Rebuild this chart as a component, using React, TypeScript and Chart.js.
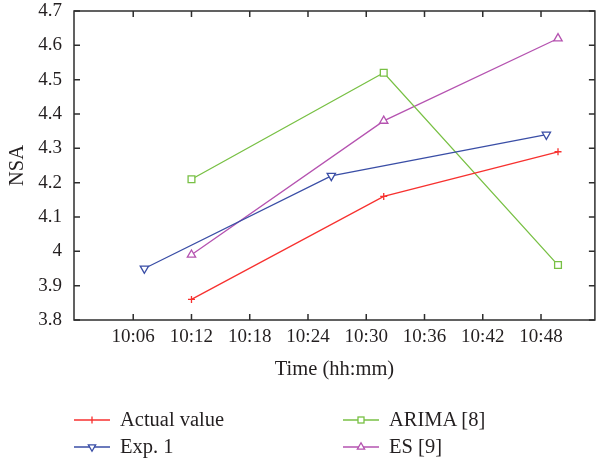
import React, { useEffect, useRef } from "react";
import { Chart, registerables } from "chart.js";

Chart.register(...registerables);

// ---- data ----
const seriesNames = ["Actual value", "Exp. 1", "ARIMA [8]", "ES [9]"];
const seriesColors = ["#f7312f", "#3a4ea6", "#78c044", "#b553b0"];
// minutes after 10:00
const timesMain = [12, 31.8, 49.75];
const timesExp1 = [7.15, 26.4, 48.55];
const actualValues = [3.86, 4.16, 4.29];
const exp1Values = [3.95, 4.22, 4.34];
const arimaValues = [4.21, 4.52, 3.96];
const esValues = [3.99, 4.38, 4.62];
const xTickMinutes = [6, 12, 18, 24, 30, 36, 42, 48];
const yTickValues = [3.8, 3.9, 4.0, 4.1, 4.2, 4.3, 4.4, 4.5, 4.6, 4.7];
const xAxisTitle = "Time (hh:mm)";
const yAxisTitle = "NSA";

const TEXT = "#231f20";
const FONT = "'Liberation Serif', 'Times New Roman', serif";

const fmtTime = (m: number) => `10:${String(Math.round(m)).padStart(2, "0")}`;
const toPoints = (xs: number[], ys: number[]) => xs.map((x, i) => ({ x, y: ys[i] }));

const framePlugin = {
  id: "frameTicks",
  afterDraw(chart: any) {
    const { ctx, chartArea } = chart;
    const { left, right, top, bottom } = chartArea;
    const xs = chart.scales.x;
    const ys = chart.scales.y;
    const tl = 6;
    ctx.save();
    ctx.strokeStyle = "#2e2e2e";
    ctx.lineWidth = 1.5;
    ctx.strokeRect(left, top, right - left, bottom - top);
    ctx.beginPath();
    xs.ticks.forEach((t: any) => {
      const px = xs.getPixelForValue(t.value);
      ctx.moveTo(px, bottom);
      ctx.lineTo(px, bottom - tl);
      ctx.moveTo(px, top);
      ctx.lineTo(px, top + tl);
    });
    ys.ticks.forEach((t: any) => {
      const py = ys.getPixelForValue(t.value);
      ctx.moveTo(left, py);
      ctx.lineTo(left + tl, py);
      ctx.moveTo(right, py);
      ctx.lineTo(right - tl, py);
    });
    ctx.stroke();
    ctx.restore();
  },
};

function Marker({ kind, color }: { kind: string; color: string }) {
  const cx = 18;
  const cy = 7;
  const r = 4.2;
  let shape: React.ReactNode = null;
  if (kind === "cross") {
    shape = <line x1={cx} y1={cy - 3.5} x2={cx} y2={cy + 3.5} stroke={color} strokeWidth={1.3} />;
  } else if (kind === "down") {
    const pts = `${cx},${cy + r} ${cx - r * 0.866},${cy - r / 2} ${cx + r * 0.866},${cy - r / 2}`;
    shape = <polygon points={pts} fill="#fff" stroke={color} strokeWidth={1.3} />;
  } else if (kind === "up") {
    const pts = `${cx},${cy - r} ${cx - r * 0.866},${cy + r / 2} ${cx + r * 0.866},${cy + r / 2}`;
    shape = <polygon points={pts} fill="#fff" stroke={color} strokeWidth={1.3} />;
  } else {
    shape = <rect x={cx - 3} y={cy - 3} width={6} height={6} fill="#fff" stroke={color} strokeWidth={1.3} />;
  }
  return (
    <svg width={36} height={14} style={{ display: "block" }}>
      <line x1={0} y1={cy} x2={36} y2={cy} stroke={color} strokeWidth={1.3} />
      {shape}
    </svg>
  );
}

const markerKinds = ["cross", "down", "square", "up"];
const legendPos = [
  { left: 74, top: 406 },
  { left: 74, top: 433 },
  { left: 343, top: 406 },
  { left: 343, top: 433 },
];

export default function App() {
  const ref = useRef<HTMLCanvasElement | null>(null);

  useEffect(() => {
    if (!ref.current) return;
    const common = { borderWidth: 1.3, tension: 0, fill: false, pointBorderWidth: 1.3, pointBackgroundColor: "#fff" };
    const chart = new Chart(ref.current, {
      type: "line",
      data: {
        datasets: [
          {
            ...common,
            label: seriesNames[0],
            data: toPoints(timesMain, actualValues),
            borderColor: seriesColors[0],
            pointStyle: "cross",
            pointRadius: 3.5,
          },
          {
            ...common,
            label: seriesNames[1],
            data: toPoints(timesExp1, exp1Values),
            borderColor: seriesColors[1],
            pointStyle: "triangle",
            pointRotation: 180,
            pointRadius: 4.8,
          },
          {
            ...common,
            label: seriesNames[2],
            data: toPoints(timesMain, arimaValues),
            borderColor: seriesColors[2],
            pointStyle: "rect",
            pointRadius: 4.8,
          },
          {
            ...common,
            label: seriesNames[3],
            data: toPoints(timesMain, esValues),
            borderColor: seriesColors[3],
            pointStyle: "triangle",
            pointRadius: 4.8,
          },
        ] as any,
      },
      options: {
        animation: false,
        responsive: false,
        layout: { padding: { left: 0, top: 11, right: 2, bottom: 70 } },
        plugins: { legend: { display: false }, tooltip: { enabled: false } },
        scales: {
          x: {
            type: "linear",
            min: -0.1,
            max: 53.55,
            grid: { display: false, drawTicks: false },
            border: { display: false },
            afterBuildTicks: (s: any) => {
              s.ticks = xTickMinutes.map((v) => ({ value: v }));
            },
            afterFit: (s: any) => {
              s.height = 70;
              s.paddingLeft = 0;
              s.paddingRight = 0;
            },
            ticks: {
              color: TEXT,
              padding: 6,
              maxRotation: 0,
              autoSkip: false,
              font: { family: FONT, size: 19, lineHeight: 1.2 },
              callback: (v: any) => fmtTime(Number(v)),
            },
            title: {
              display: true,
              text: xAxisTitle,
              color: TEXT,
              font: { family: FONT, size: 20.5, lineHeight: 1.2 },
              padding: { top: 0, bottom: 8 },
            },
          },
          y: {
            type: "linear",
            min: 3.8,
            max: 4.7,
            grid: { display: false, drawTicks: false },
            border: { display: false },
            afterBuildTicks: (s: any) => {
              s.ticks = yTickValues.map((v) => ({ value: v }));
            },
            afterFit: (s: any) => {
              s.width = 74;
              s.paddingTop = 0;
              s.paddingBottom = 0;
            },
            ticks: {
              color: TEXT,
              padding: 12,
              autoSkip: false,
              font: { family: FONT, size: 19, lineHeight: 1.2 },
              callback: (v: any) => String(Number(Number(v).toFixed(1))),
            },
            title: {
              display: true,
              text: yAxisTitle,
              color: TEXT,
              font: { family: FONT, size: 20.5, lineHeight: 1.2 },
              padding: { top: 5, bottom: 0 },
            },
          },
        },
      } as any,
      plugins: [framePlugin],
    });
    return () => chart.destroy();
  }, []);

  return (
    <div style={{ position: "absolute", left: 0, top: 0, width: 601, height: 460, background: "#fff" }}>
      <canvas ref={ref} width={601} height={460} style={{ display: "block" }} />
      {seriesNames.map((name, i) => (
        <div
          key={name}
          style={{
            position: "absolute",
            left: legendPos[i].left,
            top: legendPos[i].top,
            height: 27,
            display: "flex",
            alignItems: "center",
            fontFamily: FONT,
            fontSize: 20.5,
            color: TEXT,
            whiteSpace: "nowrap",
          }}
        >
          <Marker kind={markerKinds[i]} color={seriesColors[i]} />
          <span style={{ marginLeft: 10 }}>{name}</span>
        </div>
      ))}
    </div>
  );
}
